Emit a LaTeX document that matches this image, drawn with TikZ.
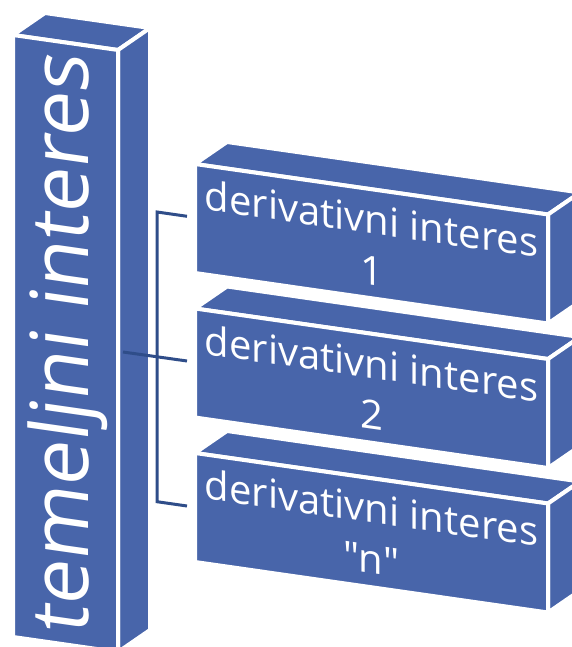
\documentclass[tikz,border=0pt]{standalone}
\usepackage{fontspec}
\setmainfont{Open Sans}[Ligatures=TeXOff]
\usepackage{xcolor}
\usepackage{tikz}
\usetikzlibrary{calc}
\definecolor{boxblue}{RGB}{72,101,170}
\definecolor{linkblue}{RGB}{47,77,137}

\begin{document}
\begin{tikzpicture}[x=1pt,y=-1pt,
  face/.style={fill=boxblue,draw=white,line width=4pt,line join=round},
  link/.style={draw=linkblue,line width=3pt},
  boxtext/.style={text=white,align=center,inner sep=0pt,yslant=-0.143,
    font=\fontsize{40}{51}\selectfont}]
\useasboundingbox (0,0) rectangle (572,647);
\clip (0,0) rectangle (572,647);
% temeljni interes
\filldraw[face] (13,35) -- (45,13) -- (150,28) -- (118,50) -- cycle;
\filldraw[face] (118,50) -- (150,28) -- (150,630) -- (118,652) -- cycle;
\filldraw[face] (13,35) -- (118,50) -- (118,652) -- (13,637) -- cycle;
\node[yslant=-0.143,rotate=90,anchor=base,text=white,inner sep=0pt,
  font=\fontsize{80}{96}\selectfont] (temeljni) at (88,346) {temeljni interes};
% links
\coordinate (root) at (123,352);
\coordinate (in1) at (187,216.3);
\coordinate (in2) at (187,361);
\coordinate (in3) at (187,506);
\draw[link] (root) -- (in2);
\draw[link] (in1) -- ++(-30,-4.3) -- ($(in3)+(-30,-4.3)$) -- (in3);
% derivativni interes 1
\filldraw[face] (195,164) -- (227,142) -- (580,192.5) -- (548,214.5) -- cycle;
\filldraw[face] (548,214.5) -- (580,192.5) -- (580,301.5) -- (548,323.5) -- cycle;
\filldraw[face] (195,164) -- (548,214.5) -- (548,323.5) -- (195,273) -- cycle;
\node[boxtext] (deriv1) at (371.5,244) {derivativni interes\\1};
% derivativni interes 2
\filldraw[face] (195,308.5) -- (227,286.5) -- (580,337) -- (548,359) -- cycle;
\filldraw[face] (548,359) -- (580,337) -- (580,446) -- (548,468) -- cycle;
\filldraw[face] (195,308.5) -- (548,359) -- (548,468) -- (195,417.5) -- cycle;
\node[boxtext] (deriv2) at (371.5,388.5) {derivativni interes\\2};
% derivativni interes n
\filldraw[face] (195,453) -- (227,431) -- (580,481.5) -- (548,503.5) -- cycle;
\filldraw[face] (548,503.5) -- (580,481.5) -- (580,590.5) -- (548,612.5) -- cycle;
\filldraw[face] (195,453) -- (548,503.5) -- (548,612.5) -- (195,562) -- cycle;
\node[boxtext] (derivn) at (371.5,533) {derivativni interes\\"n"};
\end{tikzpicture}
\end{document}
